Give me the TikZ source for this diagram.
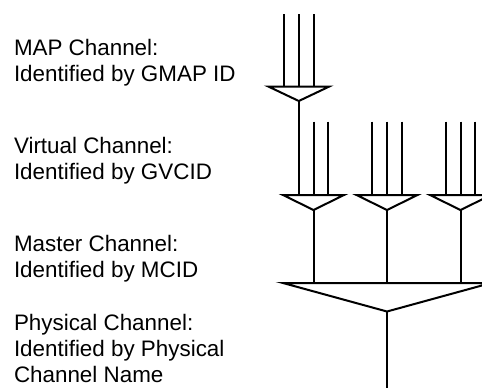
\documentclass[tikz,border=0pt]{standalone}
\usepackage{fontspec}
\setmainfont{Liberation Sans}
\usetikzlibrary{calc}

\begin{document}
\begin{tikzpicture}[x=0.5pt, y=-0.5pt, line width=1pt]
\tikzstyle{label text}=[anchor=north west, align=left, inner sep=0, font=\fontsize{11.2}{13}\selectfont]
\tikzstyle{channel}=[line width=1pt]
\tikzstyle{funnel}=[line width=1pt, line join=miter]

\useasboundingbox (0,0) rectangle (482,387);
\clip (0,0) rectangle (482,387);

% labels on the left
\node[label text] (maplbl) at (13,38) {MAP Channel:\\Identified by GMAP ID};
\node[label text] (vclbl) at (13,136) {Virtual Channel:\\Identified by GVCID};
\node[label text] (mclbl) at (13,234) {Master Channel:\\Identified by MCID};
\node[label text] (pclbl) at (13,313) {Physical Channel:\\Identified by Physical\\Channel Name};

% funnel tips and tops
\coordinate (map) at (298.8,101);
\coordinate (maptop) at (298.8,86.5);
\foreach \i/\x in {1/313.5, 2/387, 3/460.5}{
  \coordinate (vc\i) at (\x,210);
  \coordinate (vctop\i) at (\x,195);
}
\coordinate (mc) at (387,311.5);
\coordinate (mctop) at (387,283);
\coordinate (pc) at (387,400);

% MAP channel
\foreach \dx in {-14.7,0,14.7}
  \draw[channel] ($(maptop)+(\dx,-72.5)$) -- ($(maptop)+(\dx,0)$);
\draw[funnel] ($(maptop)+(-30.5,0)$) -- ($(maptop)+(30.5,0)$) -- (map) -- cycle;
\draw[channel] (map) -- (map |- vctop1);

% virtual channels
\foreach \dx in {0,14.7}
  \draw[channel] ($(vctop1)+(\dx,-73.3)$) -- ($(vctop1)+(\dx,0)$);
\foreach \i in {2,3}
  \foreach \dx in {-14.7,0,14.7}
    \draw[channel] ($(vctop\i)+(\dx,-73.3)$) -- ($(vctop\i)+(\dx,0)$);
\foreach \i in {1,2,3}{
  \draw[funnel] ($(vctop\i)+(-30.5,0)$) -- ($(vctop\i)+(30.5,0)$) -- (vc\i) -- cycle;
  \draw[channel] (vc\i) -- (vc\i |- mctop);
}

% master channel
\draw[funnel] ($(mctop)+(-104,0)$) -- ($(mctop)+(104,0)$) -- (mc) -- cycle;
\draw[channel] (mc) -- (pc);
\end{tikzpicture}
\end{document}
